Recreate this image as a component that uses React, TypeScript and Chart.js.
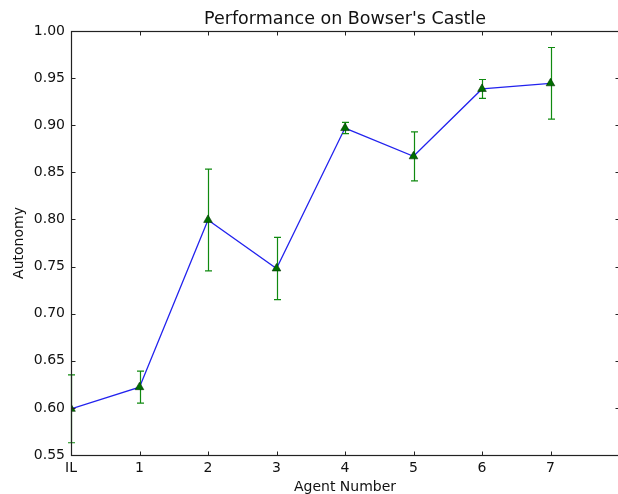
import React, { useEffect, useRef } from "react";
import { Chart, registerables } from "chart.js";

Chart.register(...registerables);

// ---- data ----
const categories = ["IL", "1", "2", "3", "4", "5", "6", "7"];
const agentPositions = [0, 1, 2, 3, 4, 5, 6, 7];
const autonomy = [0.599, 0.622, 0.7995, 0.748, 0.897, 0.867, 0.9385, 0.9445];
const autonomyErr = [0.036, 0.017, 0.054, 0.033, 0.006, 0.026, 0.01, 0.038];
const xTickValues = [0, 1, 2, 3, 4, 5, 6, 7, 8];
const yTickValues = [0.55, 0.6, 0.65, 0.7, 0.75, 0.8, 0.85, 0.9, 0.95, 1.0];
const chartTitle = "Performance on Bowser's Castle";
const xTitle = "Agent Number";
const yTitle = "Autonomy";

const FONT = "'DejaVu Sans', sans-serif";

const errorBarPlugin = {
  id: "errorBars",
  afterDatasetDraw(chart: any, args: any) {
    if (args.index !== 0) return;
    const { ctx, scales } = chart;
    const xs = scales.x;
    const ys = scales.y;
    ctx.save();
    ctx.strokeStyle = "#108a10";
    ctx.lineWidth = 1.2;
    agentPositions.forEach((xv, i) => {
      const x = Math.round(xs.getPixelForValue(xv)) + 0.5;
      const yTop = ys.getPixelForValue(autonomy[i] + autonomyErr[i]);
      const yBot = ys.getPixelForValue(autonomy[i] - autonomyErr[i]);
      ctx.beginPath();
      ctx.moveTo(x, yTop);
      ctx.lineTo(x, yBot);
      ctx.moveTo(x - 3.5, yTop);
      ctx.lineTo(x + 3.5, yTop);
      ctx.moveTo(x - 3.5, yBot);
      ctx.lineTo(x + 3.5, yBot);
      ctx.stroke();
    });
    ctx.restore();
  },
};

const framePlugin = {
  id: "frame",
  afterDatasetsDraw(chart: any) {
    const { ctx, chartArea, scales } = chart;
    const { left, right, top, bottom } = chartArea;
    const L = Math.round(left) + 0.5;
    const R = Math.round(right) + 0.5;
    const T = Math.round(top) + 0.5;
    const B = Math.round(bottom) + 0.5;
    ctx.save();
    ctx.strokeStyle = "#222";
    ctx.lineWidth = 1.2;
    ctx.strokeRect(L, T, R - L, B - T);
    ctx.lineWidth = 1;
    ctx.beginPath();
    xTickValues.forEach((v) => {
      const x = Math.round(scales.x.getPixelForValue(v)) + 0.5;
      ctx.moveTo(x, B);
      ctx.lineTo(x, B - 4);
      ctx.moveTo(x, T);
      ctx.lineTo(x, T + 4);
    });
    yTickValues.forEach((v) => {
      const y = Math.round(scales.y.getPixelForValue(v)) + 0.5;
      ctx.moveTo(L, y);
      ctx.lineTo(L + 4, y);
      ctx.moveTo(R, y);
      ctx.lineTo(R - 4, y);
    });
    ctx.stroke();
    ctx.restore();
  },
  afterDraw(chart: any) {
    const { ctx, chartArea } = chart;
    const cx = (chartArea.left + chartArea.right) / 2;
    const cy = (chartArea.top + chartArea.bottom) / 2;
    ctx.save();
    ctx.fillStyle = "#111";
    ctx.textAlign = "center";
    ctx.font = `17.5px ${FONT}`;
    ctx.textBaseline = "alphabetic";
    ctx.fillText(chartTitle, cx, 24);
    ctx.font = `14px ${FONT}`;
    ctx.fillText(xTitle, cx, 491);
    ctx.translate(19, cy);
    ctx.rotate(-Math.PI / 2);
    ctx.textBaseline = "middle";
    ctx.fillText(yTitle, 0, 0);
    ctx.restore();
  },
};

export default function App() {
  const canvasRef = useRef<HTMLCanvasElement | null>(null);

  useEffect(() => {
    if (!canvasRef.current) return;
    const points = agentPositions.map((x, i) => ({ x, y: autonomy[i] }));
    const chart = new Chart(canvasRef.current, {
      type: "line",
      data: {
        datasets: [
          {
            label: "line",
            data: points,
            borderColor: "#2222ee",
            borderWidth: 1.3,
            pointRadius: 0,
            fill: false,
            tension: 0,
            order: 2,
          },
          {
            label: "markers",
            data: points,
            showLine: false,
            pointStyle: "triangle",
            pointRadius: 5,
            backgroundColor: "#006e00",
            borderColor: "#003300",
            borderWidth: 0.6,
            order: 1,
          },
        ],
      },
      options: {
        animation: false,
        responsive: false,
        devicePixelRatio: 1,
        layout: { padding: { top: 31, right: 11, left: 0, bottom: 0 } },
        plugins: {
          legend: { display: false },
          tooltip: { enabled: false },
          title: { display: false },
        },
        scales: {
          x: {
            type: "linear",
            min: 0,
            max: 8,
            grid: { display: false, drawTicks: false },
            border: { display: false },
            afterBuildTicks: (scale: any) => {
              scale.ticks = xTickValues.map((v) => ({ value: v }));
            },
            afterFit: (scale: any) => {
              scale.height = 39;
            },
            ticks: {
              padding: 5,
              color: "#111",
              font: { family: FONT, size: 14 },
              maxRotation: 0,
              autoSkip: false,
              callback: (v: any) => categories[Number(v)] ?? "",
            },
          },
          y: {
            type: "linear",
            min: 0.55,
            max: 1.0,
            grid: { display: false, drawTicks: false },
            border: { display: false },
            afterBuildTicks: (scale: any) => {
              scale.ticks = yTickValues.map((v) => ({ value: v }));
            },
            afterFit: (scale: any) => {
              scale.width = 71;
            },
            ticks: {
              padding: 6,
              color: "#111",
              font: { family: FONT, size: 14 },
              callback: (v: any) => Number(v).toFixed(2),
            },
          },
        },
      },
      plugins: [errorBarPlugin, framePlugin],
    });
    return () => chart.destroy();
  }, []);

  return (
    <div
      style={{
        position: "fixed",
        left: 0,
        top: 0,
        width: 618,
        height: 494,
        overflow: "hidden",
        background: "#fff",
      }}
    >
      <canvas ref={canvasRef} width={630} height={494} style={{ display: "block" }} />
    </div>
  );
}
